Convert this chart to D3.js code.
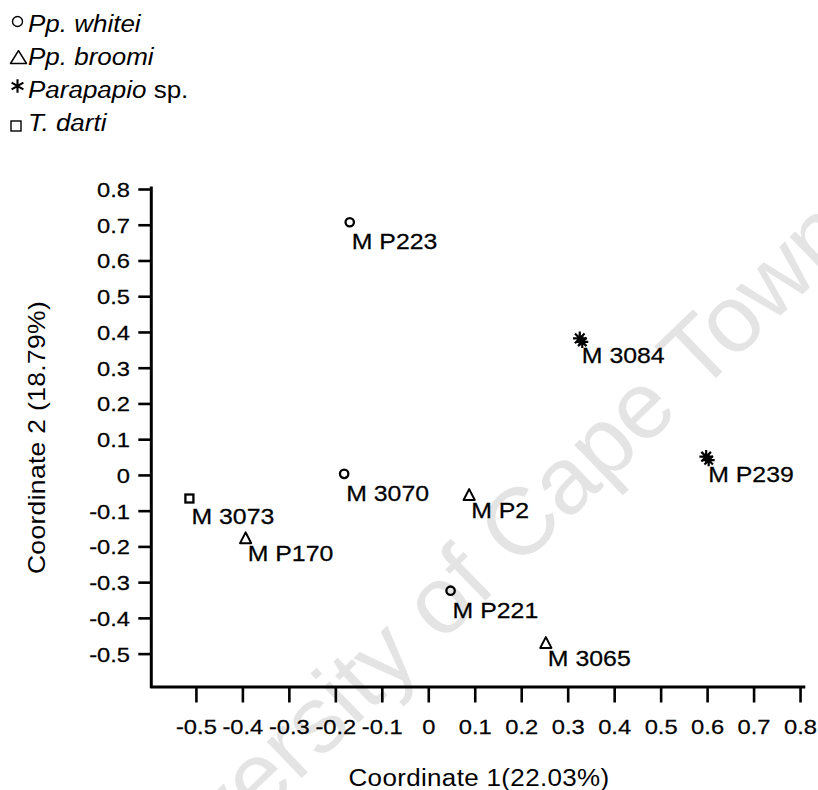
<!DOCTYPE html>
<html>
<head>
<meta charset="utf-8">
<script src="https://cdn.jsdelivr.net/npm/d3@7"></script>
<style>
  body { margin: 0; background: #fff; }
  svg { display: block; }
</style>
</head>
<body>
<svg id="chart" width="818" height="790"></svg>
<script>
// Specimen scores on the first two ordination axes
const specimens = ["M P223", "M 3070", "M P221", "M P170", "M P2", "M 3065", "M 3084", "M P239", "M 3073"];
const coord1 = [-0.169, -0.181, 0.048, -0.393, 0.088, 0.253, 0.326, 0.598, -0.514];
const coord2 = [0.707, 0.003, -0.324, -0.177, -0.056, -0.470, 0.382, 0.051, -0.066];
const taxon = ["whitei", "whitei", "whitei", "broomi", "broomi", "broomi", "sp", "sp", "darti"];

// Legend entries: [italic part, plain part]
const legendKeys = ["whitei", "broomi", "sp", "darti"];
const legendItalic = ["Pp. whitei", "Pp. broomi", "Parapapio", "T. darti"];
const legendPlain = ["", "", " sp.", ""];

const xTicks = [-0.5, -0.4, -0.3, -0.2, -0.1, 0, 0.1, 0.2, 0.3, 0.4, 0.5, 0.6, 0.7, 0.8];
const xTickLabels = ["-0.5", "-0.4", "-0.3", "-0.2", "-0.1", "0", "0.1", "0.2", "0.3", "0.4", "0.5", "0.6", "0.7", "0.8"];
const yTicks = [0.8, 0.7, 0.6, 0.5, 0.4, 0.3, 0.2, 0.1, 0, -0.1, -0.2, -0.3, -0.4, -0.5];
const yTickLabels = ["0.8", "0.7", "0.6", "0.5", "0.4", "0.3", "0.2", "0.1", "0", "-0.1", "-0.2", "-0.3", "-0.4", "-0.5"];

const xTitle = "Coordinate 1(22.03%)";
const yTitle = "Coordinate 2 (18.79%)";
const watermark = "University of Cape Town";

// ---------------------------------------------------------------
const FONT = "'Liberation Sans', Arial, Helvetica, sans-serif";
const SX = 1.13; // horizontal widening of all lettering

const svg = d3.select("#chart");
svg.append("rect").attr("width", 818).attr("height", 790).attr("fill", "#fff");

// faint diagonal watermark behind the plot
svg.append("text")
  .attr("transform", "translate(490,596) rotate(-44)")
  .attr("text-anchor", "middle")
  .attr("font-family", FONT)
  .attr("font-size", 95)
  .attr("fill", "#e4e4e4")
  .text(watermark);

const x = d3.scaleLinear().domain([-0.596, 0.807]).range([151.3, 803.3]);
const y = d3.scaleLinear().domain([-0.592, 0.8]).range([686.5, 189]);

// ---- axes
const xAxis = d3.axisBottom(x).tickValues(xTicks).tickSize(16).tickSizeOuter(0)
  .tickFormat((d, i) => xTickLabels[i]);
const yAxis = d3.axisLeft(y).tickValues(yTicks).tickSize(13).tickSizeOuter(0)
  .tickFormat((d, i) => yTickLabels[i]);

const gx = svg.append("g").attr("transform", `translate(0,${y.range()[0]})`).call(xAxis);
const gy = svg.append("g").attr("transform", `translate(${x.range()[0]},0)`).call(yAxis);

[gx, gy].forEach(g => {
  g.select(".domain").attr("stroke", "#000").attr("stroke-width", 3).attr("stroke-linecap", "square");
  g.selectAll(".tick line").attr("stroke", "#000").attr("stroke-width", 2.6);
  g.selectAll(".tick text")
    .attr("font-family", FONT).attr("font-size", 21).attr("fill", "#000")
    .attr("stroke", "#000").attr("stroke-width", 0.25)
    .attr("dy", null).attr("x", 0).attr("y", 0);
});
gy.select(".domain").attr("d", `M0,${y.range()[1] - 1}V${y.range()[0]}`);
gx.selectAll(".tick text").attr("transform", `translate(0,47.5) scale(${SX},1)`);
gy.selectAll(".tick text").attr("text-anchor", "end")
  .attr("transform", `translate(-21.3,7.5) scale(${SX},1)`);

// ---- axis titles
svg.append("text")
  .attr("transform", `translate(479,786) scale(${SX},1)`)
  .attr("text-anchor", "middle")
  .attr("font-family", FONT).attr("font-size", 23).attr("letter-spacing", 0.3)
  .text(xTitle);
svg.append("text")
  .attr("transform", `translate(45,437.5) rotate(-90) scale(${SX + 0.02},1)`)
  .attr("text-anchor", "middle")
  .attr("font-family", FONT).attr("font-size", 23).attr("letter-spacing", 0.3)
  .text(yTitle);

// ---- marker shapes
function asteriskPath(r, n) {
  let p = "";
  for (let k = 0; k < n; k++) {
    const a = Math.PI * k / n + (n === 3 ? Math.PI / 2 : 0);
    const dx = r * Math.cos(a), dy = r * Math.sin(a);
    p += `M${-dx},${-dy}L${dx},${dy}`;
  }
  return p;
}

function drawMarker(g, kind, legend) {
  const sw = legend ? 1.4 : 2.3;
  if (kind === "whitei") {
    g.append("circle").attr("r", legend ? 5 : 4.2).attr("fill", "none")
      .attr("stroke", "#000").attr("stroke-width", sw);
  } else if (kind === "broomi") {
    const h = legend ? [8, 6.3, 6.5] : [5.6, 5.8, 5];
    g.append("path").attr("d", `M0,${-h[1]}L${h[0]},${h[2]}L${-h[0]},${h[2]}Z`)
      .attr("fill", "none").attr("stroke", "#000").attr("stroke-width", legend ? 1.5 : 2)
      .attr("stroke-linejoin", "round");
  } else if (kind === "sp") {
    if (legend) {
      g.append("path").attr("d", asteriskPath(6.8, 3))
        .attr("stroke", "#000").attr("stroke-width", 2.1);
    } else {
      g.append("path").attr("d", asteriskPath(6.8, 4))
        .attr("stroke", "#000").attr("stroke-width", 2.2);
      g.append("path").attr("d", asteriskPath(6, 4)).attr("transform", "translate(2.5,3.5)")
        .attr("stroke", "#000").attr("stroke-width", 2.2);
    }
  } else {
    const s = legend ? 10 : 8;
    g.append("rect").attr("x", -s / 2).attr("y", -s / 2).attr("width", s).attr("height", s)
      .attr("fill", "none").attr("stroke", "#000").attr("stroke-width", legend ? 1.4 : 2.3);
  }
}

// ---- points and their labels
const labelDrop = { whitei: 27, broomi: 23, sp: 25, darti: 25 };
const pts = specimens.map((name, i) => ({ name, c1: coord1[i], c2: coord2[i], kind: taxon[i] }));

const gp = svg.append("g");
pts.forEach(d => {
  const g = gp.append("g").attr("transform", `translate(${x(d.c1)},${y(d.c2)})`);
  drawMarker(g, d.kind, false);
  g.append("text")
    .attr("transform", `translate(2,${labelDrop[d.kind]}) scale(${SX},1)`)
    .attr("font-family", FONT).attr("font-size", 22).attr("fill", "#000")
    .attr("stroke", "#000").attr("stroke-width", 0.25)
    .text(d.name);
});

// ---- legend (top-left)
const legendSymbolPos = [[17.5, 21.5], [18.5, 57], [17.5, 86], [16, 126]];
legendKeys.forEach((k, i) => {
  const g = svg.append("g").attr("transform", `translate(${legendSymbolPos[i][0]},${legendSymbolPos[i][1]})`);
  drawMarker(g, k, true);
  const t = svg.append("text")
    .attr("transform", `translate(28,${31.5 + i * 33}) scale(${SX},1)`)
    .attr("font-family", FONT).attr("font-size", 23).attr("fill", "#000");
  t.append("tspan").attr("font-style", "italic").text(legendItalic[i]);
  if (legendPlain[i]) t.append("tspan").text(legendPlain[i]);
});
</script>
</body>
</html>
